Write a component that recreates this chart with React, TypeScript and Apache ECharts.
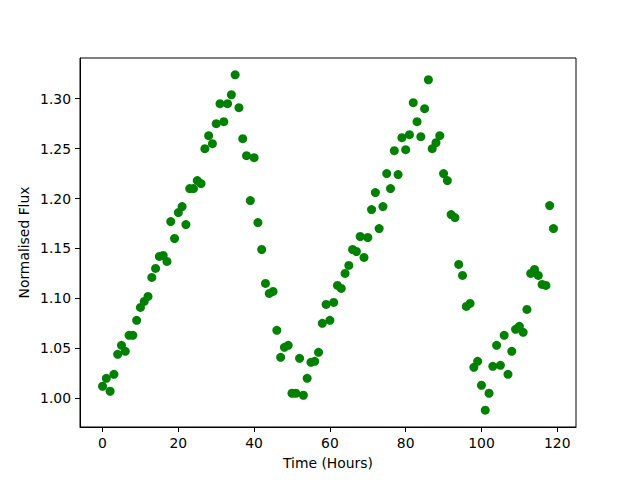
import React, { useEffect, useRef } from "react";
import * as echarts from "echarts";

// Normalised flux, one reading per hour starting at hour 0
const flux: number[] = [
  1.012, 1.02, 1.007, 1.024, 1.044, 1.053, 1.047, 1.063, 1.063, 1.078,
  1.091, 1.097, 1.102, 1.121, 1.13, 1.142, 1.143, 1.137, 1.177, 1.16,
  1.186, 1.192, 1.174, 1.21, 1.21, 1.218, 1.215, 1.25, 1.263, 1.255,
  1.275, 1.295, 1.277, 1.295, 1.304, 1.324, 1.291, 1.26, 1.243, 1.198,
  1.241, 1.176, 1.149, 1.115, 1.105, 1.107, 1.068, 1.041, 1.051, 1.053,
  1.005, 1.005, 1.04, 1.003, 1.02, 1.036, 1.037, 1.046, 1.075, 1.094,
  1.078, 1.096, 1.113, 1.11, 1.125, 1.133, 1.149, 1.147, 1.162, 1.141,
  1.161, 1.189, 1.206, 1.17, 1.192, 1.225, 1.21, 1.248, 1.224, 1.261,
  1.249, 1.264, 1.296, 1.277, 1.262, 1.29, 1.319, 1.25, 1.256, 1.263,
  1.225, 1.218, 1.184, 1.181, 1.134, 1.123, 1.092, 1.095, 1.031, 1.037,
  1.013, 0.988, 1.005, 1.032, 1.053, 1.033, 1.063, 1.024, 1.047, 1.069,
  1.072, 1.066, 1.089, 1.125, 1.129, 1.123, 1.114, 1.113, 1.193, 1.17,
];
const hours: number[] = flux.map((_, i) => i);

const xTicks: number[] = [0, 20, 40, 60, 80, 100, 120];
const yTicks: number[] = [1.0, 1.05, 1.1, 1.15, 1.2, 1.25, 1.3];

const FONT = "DejaVu Sans";

export default function App() {
  const ref = useRef<HTMLDivElement>(null);
  useEffect(() => {
    if (!ref.current) return;
    const chart = echarts.init(ref.current, null, { renderer: "svg" });
    chart.setOption({
      animation: false,
      backgroundColor: "#ffffff",
      grid: {
        left: 80,
        right: 64,
        top: 58,
        bottom: 53,
        show: true,
        borderColor: "#000000",
        borderWidth: 1,
        backgroundColor: "transparent",
      },
      xAxis: {
        type: "value",
        min: -5.95,
        max: 124.95,
        name: "Time (Hours)",
        nameLocation: "middle",
        nameGap: 29,
        nameTextStyle: { fontFamily: FONT, fontSize: 13.9, color: "#000" },
        axisLine: { show: true, onZero: false, lineStyle: { color: "#000", width: 1 } },
        axisTick: {
          show: true,
          inside: false,
          length: 5,
          customValues: xTicks,
          lineStyle: { color: "#000", width: 1 },
        },
        axisLabel: {
          show: true,
          margin: 9,
          customValues: xTicks,
          fontFamily: FONT,
          fontSize: 13.9,
          color: "#000",
          formatter: (v: number) => String(v),
        },
        splitLine: { show: false },
      },
      yAxis: {
        type: "value",
        min: 0.9712,
        max: 1.3408,
        name: "Normalised Flux",
        nameLocation: "middle",
        nameGap: 49,
        nameMoveOverlap: false,
        nameRotate: 90,
        nameTextStyle: { fontFamily: FONT, fontSize: 13.9, color: "#000" },
        axisLine: { show: true, onZero: false, lineStyle: { color: "#000", width: 1 } },
        axisTick: {
          show: true,
          inside: false,
          length: 5,
          customValues: yTicks,
          lineStyle: { color: "#000", width: 1 },
        },
        axisLabel: {
          show: true,
          margin: 9,
          customValues: yTicks,
          fontFamily: FONT,
          fontSize: 13.9,
          color: "#000",
          formatter: (v: number) => v.toFixed(2),
        },
        splitLine: { show: false },
      },
      series: [
        {
          type: "scatter",
          data: hours.map((h, i) => [h, flux[i]]),
          symbol: "circle",
          symbolSize: 9,
          itemStyle: { color: "#008000", opacity: 1 },
          silent: true,
        },
      ],
    });
    return () => chart.dispose();
  }, []);
  return (
    <div
      ref={ref}
      style={{ position: "fixed", left: 0, top: 0, width: 640, height: 480, background: "#fff" }}
    />
  );
}
